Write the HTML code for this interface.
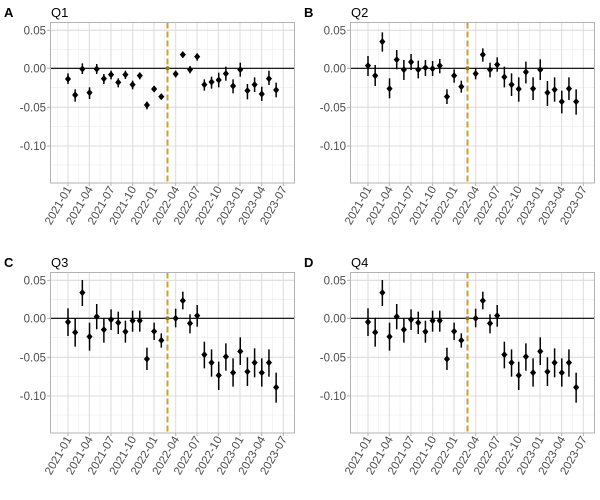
<!DOCTYPE html>
<html><head><meta charset="utf-8"><style>
body{margin:0;background:#fff}
svg{display:block;font-family:"Liberation Sans",sans-serif}
</style></head><body>
<svg id="s" width="600" height="500" xmlns="http://www.w3.org/2000/svg">
<g font-size="13" fill="#000">
<text x="4" y="17" font-weight="bold">A</text><text x="51" y="17">Q1</text>
<text x="304" y="17" font-weight="bold">B</text><text x="351" y="17">Q2</text>
<text x="4" y="267" font-weight="bold">C</text><text x="51" y="267">Q3</text>
<text x="304" y="267" font-weight="bold">D</text><text x="351" y="267">Q4</text>
</g>
</svg>
<script>
var NS="http://www.w3.org/2000/svg",s=document.getElementById("s");
function el(t,a,p,txt){var e=document.createElementNS(NS,t);for(var k in a)e.setAttribute(k,a[k]);if(txt)e.textContent=txt;(p||s).appendChild(e);return e;}
var D={
A:[[237,220,252],[285,268,305],[207,190,222],[278,262,297],[207,192,222],[236,222,252],[224,212,238],[247,235,262],[224,212,237],[254,242,268],[227,218,238],[315,305,328],[267,258,276],[290,282,298],null,[222,212,232],[164,155,173],[209,198,220],[170,160,182],[254,238,272],[246,230,266],[240,218,262],[221,200,242],[258,238,280],[209,188,230],[272,252,298],[254,232,276],[282,260,303],[236,212,255],[270,248,292]],
B:[[197,168,228],[227,195,258],[125,97,155],[266,235,295],[179,150,208],[209,180,240],[186,162,210],[209,182,235],[203,180,228],[206,183,228],[197,177,220],[290,268,312],[227,208,248],[260,242,278],null,[221,205,238],[164,145,185],[209,188,232],[194,172,215],[231,200,262],[254,220,288],[267,232,305],[216,185,250],[266,232,300],[209,178,240],[278,243,318],[269,232,305],[305,272,340],[266,232,300],[305,268,344]],
C:[[216,175,258],[247,205,290],[128,90,168],[260,218,302],[200,162,238],[239,205,278],[209,178,240],[218,185,252],[245,212,278],[212,182,245],[212,182,245],[327,293,360],[244,218,270],[271,250,293],null,[205,176,232],[152,125,178],[220,193,250],[197,165,230],[314,275,355],[338,298,380],[376,335,420],[320,280,362],[368,325,410],[304,262,345],[365,322,408],[338,295,382],[368,325,410],[338,298,380],[412,368,458]]};
D.D=D.C;
var P=[["A",0,0],["B",300,0],["C",0,250],["D",300,250]];
var majX=[204,268,333,398,462,527,591,655,720,785,850],minX=[172,236,300,365,430,494,559,623,688,752,817];
var labX=["2021-01","2021-04","2021-07","2021-10","2022-01","2022-04","2022-07","2022-10","2023-01","2023-04","2023-07"];
P.forEach(function(p){
 var ox=p[1],oy=p[2],g=el("g",{transform:"translate("+ox+","+oy+")"});
 var L=50.5,R=294.5,T=22.5,B=183;
 [149,263,380,495].forEach(function(z){el("line",{x1:L,x2:R,y1:z/3,y2:z/3,stroke:"#ececec","stroke-width":0.6},g)});
 minX.forEach(function(z){el("line",{x1:z/3,x2:z/3,y1:T,y2:B,stroke:"#ececec","stroke-width":0.6},g)});
 [91,205,322,438].forEach(function(z){el("line",{x1:L,x2:R,y1:z/3,y2:z/3,stroke:"#dedede","stroke-width":1.1},g)});
 majX.forEach(function(z){el("line",{x1:z/3,x2:z/3,y1:T,y2:B,stroke:"#dedede","stroke-width":1.1},g)});
 el("line",{x1:L,x2:R,y1:68.3,y2:68.3,stroke:"#000","stroke-width":1.1},g);
 el("line",{x1:167.5,x2:167.5,y1:T,y2:B,stroke:"#c9a227","stroke-width":2,"stroke-dasharray":"6,3"},g);
 el("circle",{cx:167.5,cy:68.3,r:2,fill:"#8c7a2a"},g);
 D[p[0]].forEach(function(d,i){if(!d)return;var x=68+i*7.177;
  el("line",{x1:x,x2:x,y1:d[1]/3,y2:d[2]/3,stroke:"#000","stroke-width":1.5},g);
  var y=d[0]/3,r=3.6;el("polygon",{points:x+","+(y-r)+" "+(x+r*0.85)+","+y+" "+x+","+(y+r)+" "+(x-r*0.85)+","+y,fill:"#000"},g);});
 el("rect",{x:L,y:T,width:R-L,height:B-T,fill:"none",stroke:"#b3b3b3","stroke-width":1},g);
 [[91,"0.05"],[205,"0.00"],[322,"-0.05"],[438,"-0.10"]].forEach(function(t){
  el("line",{x1:47,x2:50,y1:t[0]/3,y2:t[0]/3,stroke:"#b3b3b3"},g);
  el("text",{x:46,y:t[0]/3+4,"text-anchor":"end","font-size":"11.5",fill:"#4d4d4d"},g,t[1]);});
 majX.forEach(function(z,i){var x=z/3;
  el("line",{x1:x,x2:x,y1:B,y2:B+3,stroke:"#b3b3b3"},g);
  el("text",{transform:"translate("+(x+4)+","+(B+6)+") rotate(-60)","text-anchor":"end","font-size":"11.5",fill:"#4d4d4d"},g,labX[i]);});
});
</script>
</body></html>
